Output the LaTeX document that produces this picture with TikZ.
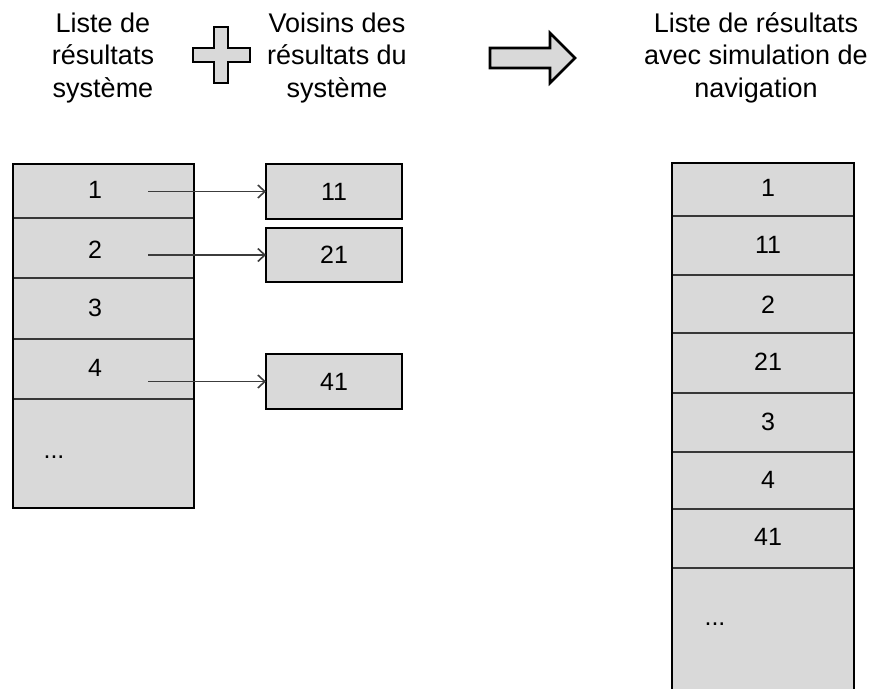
\documentclass[tikz,border=0pt]{standalone}
\usepackage{fontspec}
\setmainfont{Liberation Sans}
\usetikzlibrary{arrows.meta}
\definecolor{cellgray}{RGB}{217,217,217}
\definecolor{linegray}{RGB}{55,55,55}
\definecolor{conngray}{RGB}{60,60,60}
\begin{document}
\begin{tikzpicture}[x=1pt,y=-1pt,
  title/.style={align=center,font=\fontsize{27}{32.5}\selectfont,inner sep=0pt,anchor=base},
  num/.style={font=\fontsize{25}{30}\selectfont,inner sep=0pt},
  rowcell/.style={fill=cellgray,draw=linegray,line width=1.3pt,inner sep=0pt,outer sep=0pt,minimum height=#1},
  lrow/.style={rowcell=#1,minimum width=181pt},
  rrow/.style={rowcell=#1,minimum width=182pt},
  outline/.style={draw=black,line width=2.6pt},
  nbox/.style={fill=cellgray,draw=black,line width=2.6pt,inner sep=0pt,outer sep=0pt,minimum width=136pt,minimum height=#1,font=\fontsize{25}{30}\selectfont},
  conn/.style={draw=conngray,line width=1.6pt,-{Straight Barb[length=7pt,width=13pt]}},
  bigshape/.style={fill=cellgray,draw=black,line width=2.6pt,line join=miter}]
\useasboundingbox (0,0) rectangle (872,688);
\clip (0,0) rectangle (872,688);

% titles (anchor base = baseline of the last line)
\node[title] (T1) at (103,97) {Liste de\\résultats\\système};
\node[title] (T2) at (337,97) {Voisins des\\résultats du\\système};
\node[title] (T3) at (756,97) {Liste de résultats\\avec simulation de\\navigation};

% plus sign
\draw[bigshape] (214,27) -- (228,27) -- (228,48) -- (250,48) -- (250,62) -- (228,62) -- (228,83) -- (214,83) -- (214,62) -- (193,62) -- (193,48) -- (214,48) -- cycle;

% big arrow
\draw[bigshape] (490,48) -- (550,48) -- (550,33) -- (575,58) -- (550,83) -- (550,68) -- (490,68) -- cycle;

% left column
\node[lrow=54pt] (L1) at (103.5,191) {};
\node[lrow=60pt] (L2) at (103.5,248) {};
\node[lrow=61pt] (L3) at (103.5,308.5) {};
\node[lrow=60pt] (L4) at (103.5,369) {};
\node[lrow=109pt] (L5) at (103.5,453.5) {};
\draw[outline] (L1.north west) rectangle (L5.south east);
\node[num] (l1t) at (95,190) {1};
\node[num] (l2t) at (95,250) {2};
\node[num] (l3t) at (95,308) {3};
\node[num] (l4t) at (95,368) {4};
\node[num,anchor=base] (l5t) at (54,458) {...};

% neighbour boxes
\node[nbox=55pt] (N11) at (334,191.5) {11};
\node[nbox=54pt] (N21) at (334,255) {21};
\node[nbox=55pt] (N41) at (334,381.5) {41};

% connectors
\coordinate (a1) at (148,191.5);
\coordinate (a2) at (148,255);
\coordinate (a4) at (148,381.5);
\draw[conn] (a1) -- (N11.west);
\draw[conn] (a2) -- (N21.west);
\draw[conn] (a4) -- (N41.west);

% right column
\node[rrow=53pt] (R1) at (763,189.5) {};
\node[rrow=59pt] (R2) at (763,245.5) {};
\node[rrow=58pt] (R3) at (763,304) {};
\node[rrow=60pt] (R4) at (763,363) {};
\node[rrow=59pt] (R5) at (763,422.5) {};
\node[rrow=57pt] (R6) at (763,480.5) {};
\node[rrow=59pt] (R7) at (763,538.5) {};
\node[rrow=124pt] (R8) at (763,630) {};
\draw[outline] (R1.north west) rectangle (R8.south east);
\node[num] (r1t) at (768,188) {1};
\node[num] (r2t) at (768,245) {11};
\node[num] (r3t) at (768,305) {2};
\node[num] (r4t) at (768,362) {21};
\node[num] (r5t) at (768,422) {3};
\node[num] (r6t) at (768,480) {4};
\node[num] (r7t) at (768,537) {41};
\node[num,anchor=base] (r8t) at (715,625) {...};
\end{tikzpicture}
\end{document}
